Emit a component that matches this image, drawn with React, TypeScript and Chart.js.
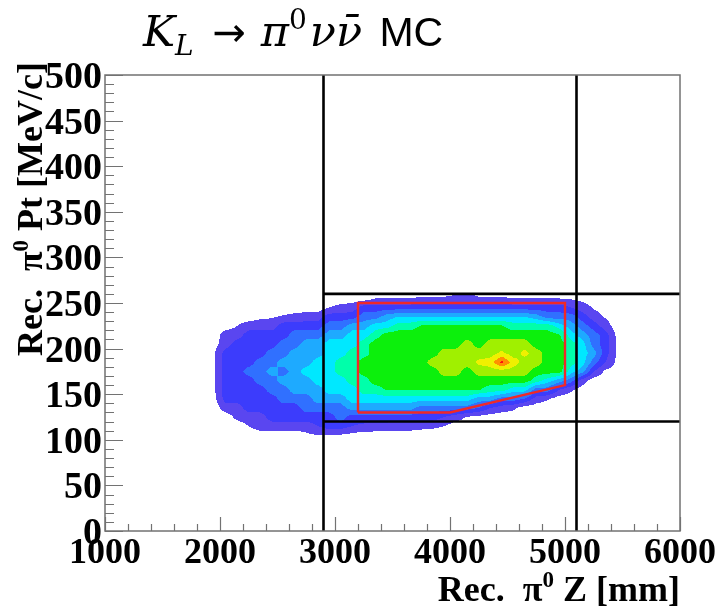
import React, { useEffect, useRef } from "react";
import { Chart, registerables } from "chart.js";

Chart.register(...registerables);

// ---------------- data ----------------
// Z bin centres [mm] of the reconstructed pi0 vertex histogram
const zBinCenters = [
  1950, 2050, 2150, 2250, 2350, 2450, 2550, 2650, 2750, 2850, 2950, 3050,
  3150, 3250, 3350, 3450, 3550, 3650, 3750, 3850, 3950, 4050, 4150, 4250,
  4350, 4450, 4550, 4650, 4750, 4850, 4950, 5050, 5150, 5250, 5350, 5450,
];
// Pt bin centres [MeV/c]
const ptBinCenters = [105, 115, 125, 135, 145, 155, 165, 175, 185, 195, 205, 215, 225, 235, 245, 255, 265];

// contour level read at each (Z, Pt) bin: one row per Z bin, values along Pt
const contourLevel: number[][] = [
  [0, 0, 0, 0, 0.2, 0.4, 0.4, 0.4, 0.4, 0.4, 0.2, 0, 0, 0, 0, 0, 0], // 1950
  [0, 0, 0, 1, 2, 2, 2, 2, 2, 2, 1, 1, 0, 0, 0, 0, 0], // 2050
  [0, 0, 0.8, 1, 2, 2, 2, 2, 2, 2, 2, 1, 0.5, 0, 0, 0, 0], // 2150
  [0, 0.5, 1, 2, 2, 2, 2, 3, 2, 2, 2, 2, 1, 0, 0, 0, 0], // 2250
  [0, 1, 1, 2, 2, 2, 3, 3, 3, 2, 2, 2, 1, 0.3, 0, 0, 0], // 2350
  [0, 1, 2, 2, 2, 3, 3, 4, 3, 3, 2, 2, 1, 0.4, 0, 0, 0], // 2450
  [0, 1, 2, 2, 3, 3, 4, 3, 4, 3, 3, 2, 2, 0.6, 0, 0, 0], // 2550
  [0, 1, 2, 2, 3, 4, 4, 4, 4, 4, 3, 3, 2, 0.8, 0, 0, 0], // 2650
  [0.3, 1, 2, 3, 3, 4, 4, 5, 4, 4, 4, 3, 2, 1, 0, 0, 0], // 2750
  [0.5, 1.5, 2, 3, 4, 4, 5, 5, 5, 4, 4, 3, 2, 1, 0, 0, 0], // 2850
  [0.5, 2, 2, 3, 4, 5, 5, 5, 5, 5, 5, 4, 3, 2, 0.5, 0, 0], // 2950
  [0.4, 2, 3, 3, 4, 5, 5, 6, 6, 5, 5, 4, 3, 2, 0.8, 0, 0], // 3050
  [0.2, 1.5, 2, 4, 5, 5, 6, 6, 6, 6, 5, 5, 4, 2, 1, 0, 0], // 3150
  [0, 1.3, 2, 4, 5, 6, 6, 7, 7, 6, 6, 5, 4, 3, 2, 0, 0], // 3250
  [0, 1.2, 2, 4, 5, 6, 7, 7, 7, 7, 7, 6, 5, 3, 2, 0.5, 0], // 3350
  [0, 1.2, 2, 4, 5, 6.6, 7, 7, 7, 7, 7, 7, 5, 4, 2, 0.5, 0], // 3450
  [0, 1, 2, 4, 5, 6.6, 7, 7, 7, 7, 7, 7, 6, 4.5, 2, 0.5, 0], // 3550
  [0, 1, 2, 4, 5, 6.6, 7, 7, 7, 7, 7, 7, 6, 4.5, 2, 0.5, 0], // 3650
  [0, 0.8, 2, 3, 5, 6.6, 7, 7, 7, 7, 7, 7, 6.6, 4.5, 2, 0.6, 0], // 3750
  [0, 0.7, 2, 3, 5, 6.6, 7, 7, 8, 7, 7, 7, 6.6, 4.5, 2, 0.6, 0], // 3850
  [0, 0.5, 1.5, 3, 5, 6.6, 7, 8, 8, 8, 7, 7, 6.6, 4.5, 2, 0.6, 0], // 3950
  [0, 0, 1, 3, 5, 6.6, 7, 8, 8, 8, 7, 7, 6.6, 4.5, 2, 0.8, 0], // 4050
  [0, 0, 0.4, 3, 5, 6.6, 7, 7, 8, 8, 8, 7, 6.6, 4.5, 2, 1, 0], // 4150
  [0, 0, 0.2, 2.5, 4, 6.6, 7, 8, 8.7, 8, 7, 7, 6.6, 4.5, 2, 0.6, 0], // 4250
  [0, 0, 0, 1.5, 4, 6, 7, 8, 9, 8, 8, 7, 6.6, 4.5, 2, 0.6, 0], // 4350
  [0, 0, 0, 1, 3, 6, 7, 8, 10.8, 8.7, 8, 7, 6.6, 4.5, 2, 0.6, 0], // 4450
  [0, 0, 0, 0.7, 3, 5, 7, 8, 9, 8, 8, 7, 6, 4.5, 2, 0.5, 0], // 4550
  [0, 0, 0, 0, 2.5, 5, 7, 8, 8, 8.8, 8, 7, 6, 4.5, 2, 0.5, 0], // 4650
  [0, 0, 0, 0, 1, 3, 6, 7, 8, 8, 7, 7, 6, 4, 2, 0.5, 0], // 4750
  [0, 0, 0, 0, 0.6, 3, 5, 7, 7, 7, 7, 7, 6, 3, 2, 0.5, 0], // 4850
  [0, 0, 0, 0, 0, 1.5, 4, 7, 7, 7, 7, 6.6, 5, 3, 2, 0.5, 0], // 4950
  [0, 0, 0, 0, 0, 0.7, 3, 5, 6, 6, 6, 5, 4, 3, 1.5, 0.4, 0], // 5050
  [0, 0, 0, 0, 0, 0, 1, 4, 5, 5, 5, 4, 3, 2, 1, 0.2, 0], // 5150
  [0, 0, 0, 0, 0, 0, 0, 1.5, 3, 4, 3, 3, 2, 1, 0.4, 0, 0], // 5250
  [0, 0, 0, 0, 0, 0, 0, 0.3, 1.5, 2, 2, 2, 1, 0.4, 0, 0, 0], // 5350
  [0, 0, 0, 0, 0, 0, 0, 0, 0.3, 0.4, 0.4, 0.3, 0, 0, 0, 0, 0], // 5450
];

// contour colours for levels 1..11 (ROOT-like rainbow palette)
const levelColors = [
  "#5a46f0", "#3c3cfc", "#3070ff", "#1eaaff", "#00e8ff", "#00ffaa",
  "#0cf00c", "#a0f000", "#f0f000", "#ff9000", "#ff1010",
];

// signal-region cut lines
const zCuts = [2900, 5100];
const ptCuts = [120, 260];
// red signal box
const boxZ = [3200, 4000, 5000, 5000, 3200, 3200];
const boxPt = [130, 130, 160, 250, 250, 130];

// axes
const xTicks = [1000, 2000, 3000, 4000, 5000, 6000];
const yTicks = [0, 50, 100, 150, 200, 250, 300, 350, 400, 450, 500];
const xRange = [1000, 6000];
const yRange = [0, 500];

// ---------------- helpers ----------------
type Piece = { t: string; font: string; dy?: number; gap?: number };

function richWidth(ctx: CanvasRenderingContext2D, pieces: Piece[]) {
  let w = 0;
  for (const p of pieces) {
    ctx.font = p.font;
    w += ctx.measureText(p.t).width + (p.gap || 0);
  }
  return w;
}
function drawRich(ctx: CanvasRenderingContext2D, pieces: Piece[], x: number, y: number) {
  let cx = x;
  ctx.textAlign = "left";
  ctx.textBaseline = "alphabetic";
  for (const p of pieces) {
    ctx.font = p.font;
    ctx.fillText(p.t, cx, y + (p.dy || 0));
    cx += ctx.measureText(p.t).width + (p.gap || 0);
  }
}

const heatmapPlugin = {
  id: "heatmap",
  beforeDatasetsDraw(chart: any) {
    const { ctx, scales } = chart;
    const xs = scales.x;
    const ys = scales.y;
    const nz = zBinCenters.length;
    const np = ptBinCenters.length;
    const dz = zBinCenters[1] - zBinCenters[0];
    const dp = ptBinCenters[1] - ptBinCenters[0];
    const x0 = Math.floor(xs.getPixelForValue(zBinCenters[0] - dz));
    const x1 = Math.ceil(xs.getPixelForValue(zBinCenters[nz - 1] + dz));
    const y0 = Math.floor(ys.getPixelForValue(ptBinCenters[np - 1] + dp));
    const y1 = Math.ceil(ys.getPixelForValue(ptBinCenters[0] - dp));
    const w = x1 - x0;
    const h = y1 - y0;
    const off = document.createElement("canvas");
    off.width = w;
    off.height = h;
    const octx = off.getContext("2d")!;
    const img = octx.createImageData(w, h);
    const rgb = levelColors.map((c) => [
      parseInt(c.slice(1, 3), 16),
      parseInt(c.slice(3, 5), 16),
      parseInt(c.slice(5, 7), 16),
    ]);
    const get = (i: number, j: number) =>
      i < 0 || j < 0 || i >= nz || j >= np ? 0 : contourLevel[i][j];
    for (let py = 0; py < h; py++) {
      const pt = ys.getValueForPixel(y0 + py + 0.5);
      const fj = (pt - ptBinCenters[0]) / dp;
      const j0 = Math.floor(fj);
      const u = fj - j0;
      for (let px = 0; px < w; px++) {
        const z = xs.getValueForPixel(x0 + px + 0.5);
        const fi = (z - zBinCenters[0]) / dz;
        const i0 = Math.floor(fi);
        const t = fi - i0;
        const v =
          get(i0, j0) * (1 - t) * (1 - u) +
          get(i0 + 1, j0) * t * (1 - u) +
          get(i0, j0 + 1) * (1 - t) * u +
          get(i0 + 1, j0 + 1) * t * u;
        let lvl = Math.floor(v + 0.5);
        if (lvl <= 0) continue;
        if (lvl > rgb.length) lvl = rgb.length;
        const c = rgb[lvl - 1];
        const k = (py * w + px) * 4;
        img.data[k] = c[0];
        img.data[k + 1] = c[1];
        img.data[k + 2] = c[2];
        img.data[k + 3] = 255;
      }
    }
    octx.putImageData(img, 0, 0);
    ctx.save();
    ctx.drawImage(off, x0, y0);
    ctx.restore();
  },
};

const XLABEL_FONT = 'bold 36px "Liberation Serif"';
const YLABEL_FONT = 'bold 38px "Liberation Serif"';
const TITLE_FONT = 'bold 36px "Liberation Serif"';
const SUP_FONT = 'bold 23px "Liberation Serif"';

const axesPlugin = {
  id: "rootAxes",
  afterDatasetsDraw(chart: any) {
    const { ctx, chartArea: a, scales } = chart;
    const xs = scales.x;
    const ys = scales.y;
    ctx.save();
    // frame
    ctx.strokeStyle = "#727272";
    ctx.lineWidth = 1.5;
    ctx.strokeRect(a.left, a.top, a.right - a.left, a.bottom - a.top);
    // ticks
    ctx.beginPath();
    for (let v = xRange[0]; v <= xRange[1] + 1e-6; v += 200) {
      const px = Math.round(xs.getPixelForValue(v)) + 0.5;
      const len = v % 1000 === 0 ? 14 : 7;
      ctx.moveTo(px, a.bottom);
      ctx.lineTo(px, a.bottom - len);
    }
    for (let v = yRange[0]; v <= yRange[1] + 1e-6; v += 10) {
      const py = Math.round(ys.getPixelForValue(v)) + 0.5;
      const len = v % 50 === 0 ? 18 : 9;
      ctx.moveTo(a.left, py);
      ctx.lineTo(a.left + len, py);
    }
    ctx.lineWidth = 1.2;
    ctx.stroke();

    // tick labels
    ctx.fillStyle = "#000";
    ctx.textBaseline = "alphabetic";
    ctx.font = XLABEL_FONT;
    ctx.textAlign = "center";
    for (const v of xTicks) ctx.fillText(String(v), xs.getPixelForValue(v), 563);
    ctx.font = YLABEL_FONT;
    ctx.textAlign = "right";
    for (const v of yTicks) ctx.fillText(String(v), a.left - 3, ys.getPixelForValue(v) + 13);

    // x title (right aligned)
    const xt: Piece[] = [
      { t: "Rec.  \u03c0", font: TITLE_FONT },
      { t: "0", font: SUP_FONT, dy: -14 },
      { t: " Z [mm]", font: TITLE_FONT },
    ];
    drawRich(ctx, xt, a.right - richWidth(ctx, xt), 601);

    // y title (rotated, right aligned at top)
    const yt: Piece[] = [
      { t: "Rec.  \u03c0", font: TITLE_FONT },
      { t: "0", font: SUP_FONT, dy: -14 },
      { t: " Pt [MeV/c]", font: TITLE_FONT },
    ];
    ctx.save();
    ctx.translate(42, 62);
    ctx.rotate(-Math.PI / 2);
    drawRich(ctx, yt, -richWidth(ctx, yt), 0);
    ctx.restore();

    ctx.restore();
  },
};

const titlePlugin = {
  id: "mathTitle",
  afterDraw(chart: any) {
    const { ctx } = chart;
    const big = 'italic 43px "DejaVu Serif"';
    const small = 'italic 28px "DejaVu Serif"';
    const pieces: Piece[] = [
      { t: "K", font: big },
      { t: "L", font: small, dy: 9, gap: 6 },
      { t: " \u2192 ", font: '40px "DejaVu Sans"', gap: 2 },
      { t: "\u03c0", font: big },
      { t: "0", font: '28px "DejaVu Serif"', dy: -17, gap: 3 },
      { t: "\u03bd\u03bd\u0304", font: big, gap: 6 },
      { t: " MC", font: '41px "Liberation Sans"' },
    ];
    ctx.save();
    ctx.fillStyle = "#000";
    drawRich(ctx, pieces, 143, 46);
    ctx.restore();
  },
};

export default function App() {
  const ref = useRef<HTMLCanvasElement>(null);
  useEffect(() => {
    const cutDatasets = [
      ...zCuts.map((z) => ({
        data: [
          { x: z, y: yRange[0] },
          { x: z, y: yRange[1] },
        ],
      })),
      ...ptCuts.map((p) => ({
        data: [
          { x: zCuts[0], y: p },
          { x: xRange[1], y: p },
        ],
      })),
    ].map((d) => ({
      ...d,
      showLine: true,
      borderColor: "#000",
      borderWidth: 2.6,
      pointRadius: 0,
      fill: false,
    }));
    const boxDataset = {
      data: boxZ.map((z, i) => ({ x: z, y: boxPt[i] })),
      showLine: true,
      borderColor: "#f02828",
      borderWidth: 2.4,
      pointRadius: 0,
      fill: false,
    };
    const chart = new Chart(ref.current!, {
      type: "scatter",
      data: { datasets: [...cutDatasets, boxDataset] as any },
      options: {
        responsive: false,
        animation: false,
        devicePixelRatio: 1,
        layout: { padding: { left: 105, right: 39, top: 75, bottom: 78 } },
        scales: {
          x: { type: "linear", min: xRange[0], max: xRange[1], display: false },
          y: { type: "linear", min: yRange[0], max: yRange[1], display: false },
        },
        plugins: { legend: { display: false }, tooltip: { enabled: false }, title: { display: false } },
      },
      plugins: [heatmapPlugin, axesPlugin, titlePlugin],
    });
    return () => chart.destroy();
  }, []);
  return (
    <div style={{ position: "fixed", left: 0, top: 0, width: 719, height: 609, background: "#fff" }}>
      <canvas ref={ref} width={719} height={609} style={{ display: "block" }} />
    </div>
  );
}
